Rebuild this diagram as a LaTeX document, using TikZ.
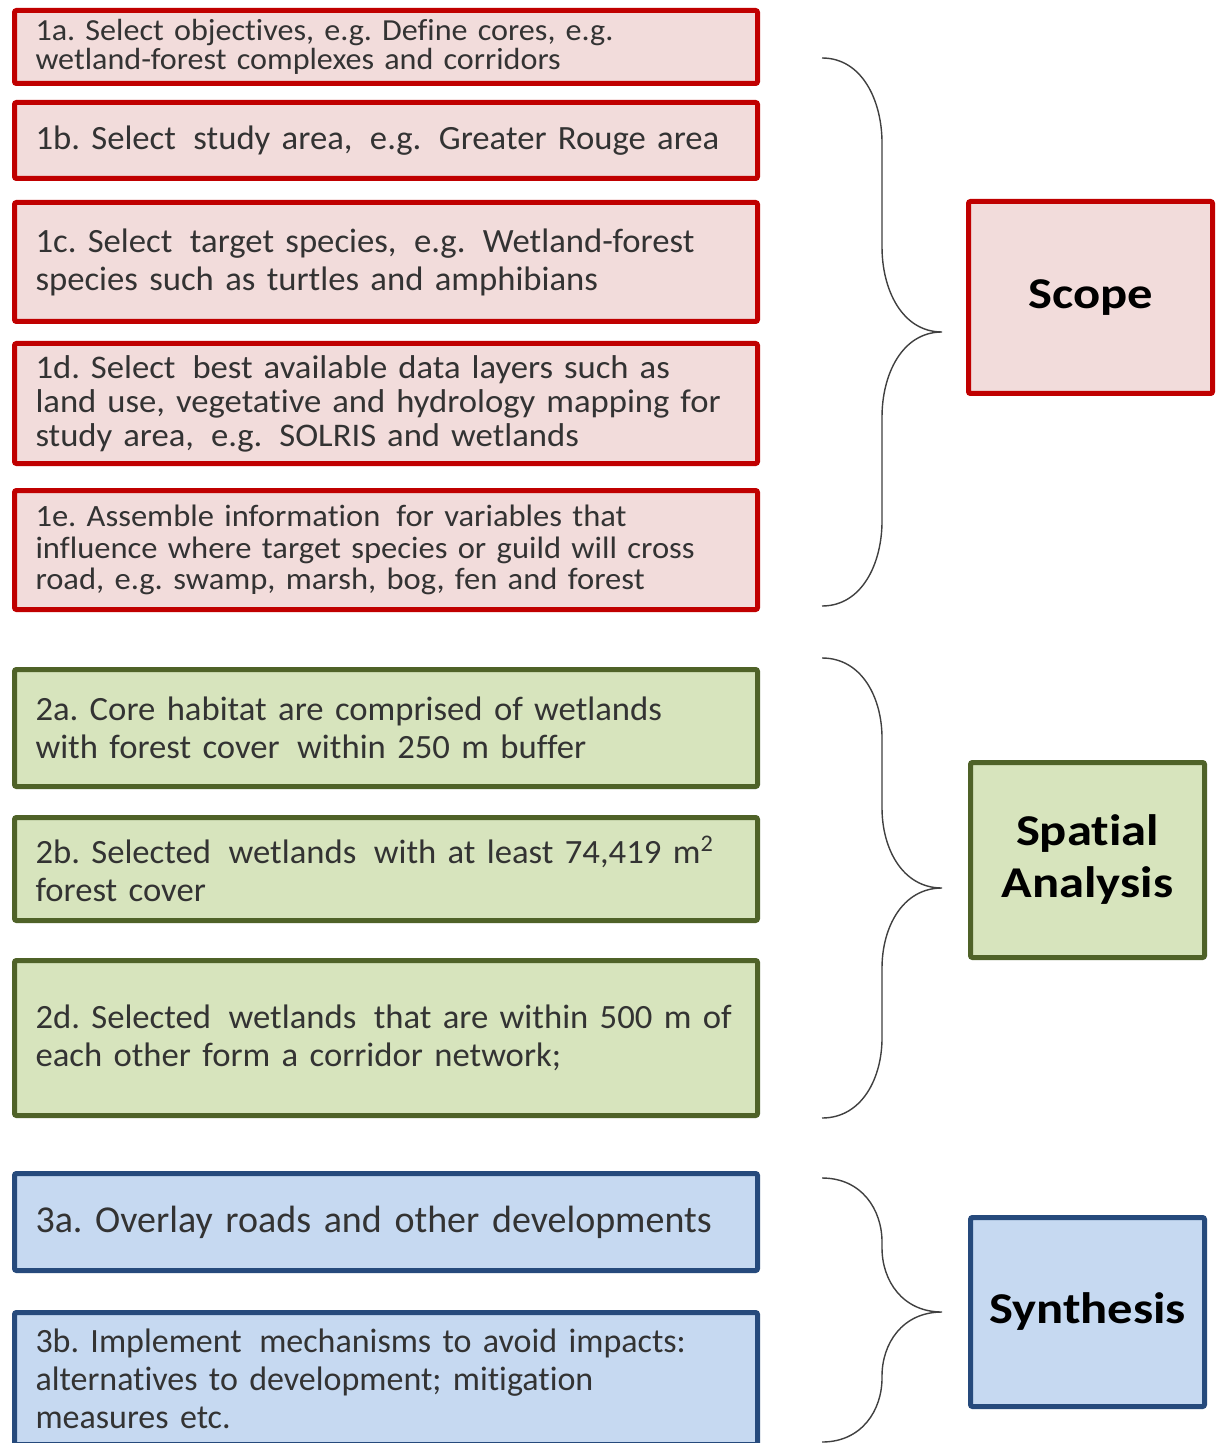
\documentclass[tikz,border=0pt]{standalone}
\usepackage{fontspec}
\setmainfont{Carlito}[Ligatures=NoCommon]
\newfontfamily\stepfont{Carlito}[FakeStretch=1.02, Ligatures=NoCommon]
\newfontfamily\widefont{Carlito}[FakeStretch=1.05, Ligatures=NoCommon]
\newfontfamily\phasefont{Carlito}[FakeStretch=1.15, Ligatures=NoCommon]
\usetikzlibrary{positioning}
\definecolor{scope_red}{RGB}{192, 0, 0}
\definecolor{scope_fill}{RGB}{242, 220, 219}
\definecolor{spatial_green}{RGB}{79, 98, 40}
\definecolor{spatial_fill}{RGB}{215, 228, 189}
\definecolor{synth_blue}{RGB}{38, 74, 124}
\definecolor{synth_fill}{RGB}{198, 217, 241}
\newcommand{\wsp}{\hspace{0.18em}}
\frenchspacing
\tikzset {
  stepbox/.style = {draw, line width=2.5pt, outer sep=1.25pt, rectangle, rounded corners=1pt, minimum width=371.5pt, text width=350.5pt, inner xsep=10.5pt, align=left, text=black!80, font=\stepfont\fontsize{17}{19}\selectfont},
  scopestep/.style = {stepbox, draw=scope_red, fill=scope_fill},
  spatialstep/.style = {stepbox, draw=spatial_green, fill=spatial_fill},
  synthstep/.style = {stepbox, draw=synth_blue, fill=synth_fill, font=\fontsize{17}{19}\selectfont},
  phase/.style = {draw, line width=2.5pt, outer sep=1.25pt, rectangle, rounded corners=1pt, align=center, font=\phasefont\bfseries\fontsize{22}{26}\selectfont},
  bracestroke/.style = {line width=0.7pt, color=black!75},
}
% curly brace: top, tip, bottom, curve height
\newcommand{\groupbrace}[4]{%
  \draw[bracestroke] (822,#1) .. controls (862,#1) and (882,#1+#4*0.5) .. (882,#1+#4)
    -- (882,#2-#4) .. controls (882,#2-#4*0.5) and (902,#2) .. (942,#2)
    .. controls (902,#2) and (882,#2+#4*0.5) .. (882,#2+#4)
    -- (882,#3-#4) .. controls (882,#3-#4*0.5) and (862,#3) .. (822,#3);}

\begin{document}
\begin{tikzpicture}[x=0.5pt, y=-0.5pt]
    \clip (0,0) rectangle (1221,1443);
    \fill[white] (0,0) rectangle (1221,1443);

    % scope
    \node[scopestep, minimum height=36.5pt, anchor=north, font=\widefont\fontsize{15.3}{13}\selectfont] (s1a) at (386,8) {1a. Select objectives, e.g. Define cores, e.g.\\ wetland-forest complexes and corridors};
    \node[scopestep, minimum height=38pt, below=7pt of s1a] (s1b) {1b. Select\wsp{} study area,\wsp{} e.g.\wsp{} Greater Rouge area};
    \node[scopestep, minimum height=59.5pt, below=9.5pt of s1b] (s1c) {1c. Select\wsp{} target species,\wsp{} e.g.\wsp{} Wetland-forest\\ species such as turtles and amphibians};
    \node[scopestep, minimum height=60pt, below=8.5pt of s1c, font=\widefont\fontsize{16.5}{17}\selectfont] (s1d) {1d. Select\wsp{} best available data layers such as\\ land use, vegetative and hydrology mapping for\\ study area,\wsp{} e.g.\wsp{} SOLRIS and wetlands};
    \node[scopestep, minimum height=59.5pt, below=11pt of s1d, font=\widefont\fontsize{15.5}{15.75}\selectfont] (s1e) {1e. Assemble information\wsp{} for variables that\\ influence where target species or guild will cross\\ road, e.g. swamp, marsh, bog, fen and forest};

    % spatial analysis
    \node[spatialstep, minimum height=58.5pt, below=27.5pt of s1e] (s2a) {2a. Core habitat are comprised of wetlands\\ with forest cover\wsp{} within 250 m buffer};
    \node[spatialstep, minimum height=51.5pt, below=13pt of s2a] (s2b) {2b. Selected\wsp{} wetlands\wsp{} with at least 74,419 m\textsuperscript{2}\\ forest cover};
    \node[spatialstep, minimum height=77.5pt, below=17.5pt of s2b] (s2d) {2d. Selected\wsp{} wetlands\wsp{} that are within 500 m of\\ each other form a corridor network;};

    % synthesis
    \node[synthstep, minimum height=48.5pt, below=26.5pt of s2d, font=\fontsize{19}{21}\selectfont] (s3a) {3a. Overlay roads and other developments};
    \node[synthstep, minimum height=66pt, below=18.5pt of s3a] (s3b) {3b. Implement\wsp{} mechanisms to avoid impacts:\\ alternatives to development; mitigation\\ measures etc.};

    % phases
    \node[phase, draw=scope_red, fill=scope_fill, minimum width=122pt, minimum height=96pt] (scope) at (1090.5,297.5) {Scope};
    \node[phase, draw=spatial_green, fill=spatial_fill, minimum width=117pt, minimum height=97.5pt] (spatial) at (1087.5,860) {Spatial\\ Analysis};
    \node[phase, draw=synth_blue, fill=synth_fill, minimum width=117pt, minimum height=94.5pt] (synth) at (1087.5,1312) {Synthesis};

    \groupbrace{58}{332}{606}{85}
    \groupbrace{658}{888}{1118}{80}
    \groupbrace{1178}{1312}{1442}{64}

\end{tikzpicture}
\end{document}
